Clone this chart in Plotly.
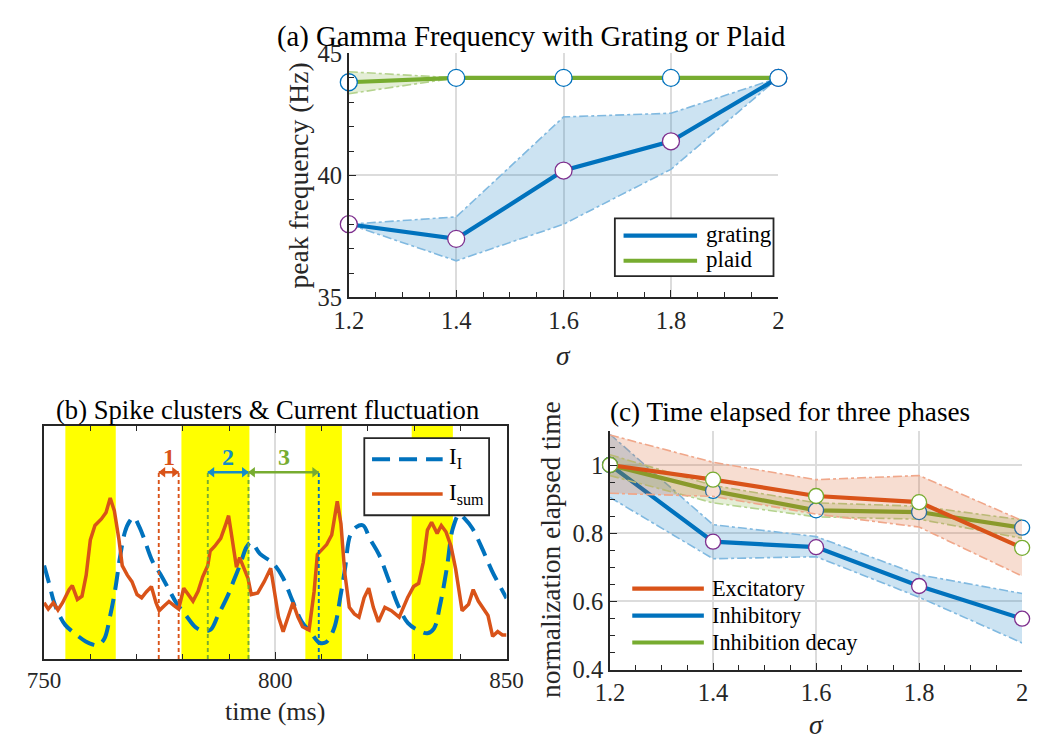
import plotly.graph_objects as go

W, H = 1043, 751
FONT = "Liberation Serif"
INK = "#262626"
BLUE = "#0072BD"
ORANGE = "#D95319"
GREEN = "#77AC30"
PURPLE = "#7E2F8E"

# ---------------- (a) Gamma frequency ----------------
sigma = [1.2, 1.4, 1.6, 1.8, 2.0]
grating_mean = [38.0, 37.4, 40.2, 41.4, 44.0]
grating_upper = [38.0, 38.3, 42.4, 42.55, 44.0]
grating_lower = [38.0, 36.5, 38.0, 40.25, 44.0]
plaid_mean = [43.82, 44.0, 44.0, 44.0, 44.0]
plaid_upper = [44.25, 44.0, 44.0, 44.0, 44.0]
plaid_lower = [43.35, 44.0, 44.0, 44.0, 44.0]

# ---------------- (b) spike clusters & currents ----------------
t_I = [750.0, 751.0, 752.2, 753.5, 754.6, 757.0, 759.0, 760.5, 761.7, 763.0,
       764.3, 765.4, 766.4, 767.5, 768.5, 769.4, 770.5, 771.6, 773.4, 775.1,
       777.2, 778.6, 780.7, 782.8, 784.5, 786.0, 787.6, 789.7, 791.1, 792.5,
       793.8, 794.8, 796.7, 799.5, 801.6, 803.7, 805.7, 807.8, 809.5, 811.0,
       812.7, 814.1, 815.1, 816.2, 817.5, 819.0, 820.4, 822.4, 824.5, 826.6,
       828.7, 830.8, 832.9, 834.3, 835.6, 837.1, 838.4, 839.8, 841.0, 842.6,
       844.7, 846.8, 848.9, 850.0]
I_inh = [0.40, 0.33, 0.24, 0.18, 0.145, 0.103, 0.075, 0.062, 0.060, 0.085,
         0.186, 0.30, 0.434, 0.545, 0.59, 0.607, 0.57, 0.517, 0.42, 0.365,
         0.29, 0.24, 0.186, 0.135, 0.12, 0.125, 0.186, 0.27, 0.34, 0.41,
         0.48, 0.50, 0.45, 0.41, 0.35, 0.25, 0.16, 0.11, 0.07, 0.072,
         0.13, 0.27, 0.39, 0.53, 0.565, 0.572, 0.517, 0.448, 0.34, 0.228,
         0.153, 0.124, 0.11, 0.13, 0.228, 0.39, 0.56, 0.62, 0.60, 0.56,
         0.475, 0.38, 0.30, 0.26]
t_sum = [750.0, 750.9, 752.0, 753.0, 754.0, 755.4, 756.1, 757.2, 758.2, 759.1,
         760.0, 761.0, 762.4, 763.4, 764.3, 765.2, 766.2, 766.9, 768.0, 769.0,
         770.1, 771.1, 772.1, 773.2, 774.2, 774.9, 776.0, 777.0, 778.1, 779.1,
         780.2, 781.2, 782.2, 783.3, 784.3, 785.4, 785.9, 786.9, 788.2, 789.2,
         789.9, 790.6, 791.6, 792.3, 793.3, 794.1, 794.8, 796.2, 797.6, 799.0,
         799.7, 800.7, 801.7, 802.8, 803.8, 804.9, 805.9, 807.3, 808.4, 809.1,
         810.1, 811.1, 812.2, 812.9, 813.4, 814.2, 815.0, 816.0, 817.1, 818.1,
         819.2, 820.2, 821.2, 822.3, 823.7, 825.1, 826.8, 828.6, 829.9, 831.0,
         832.0, 832.9, 833.8, 835.0, 835.9, 836.9, 838.0, 839.0, 840.4, 841.8,
         842.8, 843.9, 844.9, 846.0, 847.0, 848.1, 849.1, 850.0]
I_sum = [0.241, 0.214, 0.241, 0.210, 0.241, 0.297, 0.314, 0.255, 0.269, 0.359,
         0.510, 0.572, 0.600, 0.628, 0.690, 0.634, 0.510, 0.400, 0.359, 0.331,
         0.276, 0.262, 0.287, 0.310, 0.241, 0.207, 0.228, 0.246, 0.228, 0.214,
         0.303, 0.276, 0.248, 0.290, 0.352, 0.400, 0.462, 0.483, 0.517, 0.572,
         0.614, 0.524, 0.393, 0.434, 0.386, 0.345, 0.276, 0.283, 0.331, 0.389,
         0.303, 0.179, 0.117, 0.179, 0.241, 0.179, 0.138, 0.124, 0.290, 0.448,
         0.469, 0.490, 0.531, 0.628, 0.676, 0.579, 0.372, 0.221, 0.193, 0.179,
         0.262, 0.303, 0.221, 0.159, 0.221, 0.207, 0.179, 0.262, 0.310, 0.324,
         0.414, 0.552, 0.586, 0.538, 0.572, 0.545, 0.483, 0.386, 0.207, 0.234,
         0.297, 0.248, 0.221, 0.186, 0.097, 0.117, 0.103, 0.103]
spike_start = [754.6, 779.7, 806.5, 829.5]
spike_end = [765.5, 794.4, 814.4, 838.4]
phase_labels = ["1", "2", "3"]
phase_start = [774.8, 785.4, 794.2]
phase_end = [779.1, 794.2, 809.4]
phase_colors = [ORANGE, "#168CC8", GREEN]
guide_times = [774.8, 779.1, 785.4, 794.2, 809.4]
guide_colors = [ORANGE, ORANGE, GREEN, GREEN, BLUE]
arrow_level = 0.80
label_level = 0.865

# ---------------- (c) time elapsed ----------------
exc_mean = [1.0, 0.957, 0.909, 0.891, 0.757]
exc_upper = [1.088, 1.008, 0.957, 0.969, 0.837]
exc_lower = [0.917, 0.908, 0.856, 0.818, 0.674]
inh_mean = [1.0, 0.775, 0.759, 0.645, 0.549]
inh_upper = [1.09, 0.825, 0.790, 0.678, 0.623]
inh_lower = [0.905, 0.725, 0.731, 0.612, 0.478]
dec_mean = [1.0, 0.924, 0.867, 0.862, 0.816]
dec_upper = [1.03, 0.94, 0.889, 0.879, 0.839]
dec_lower = [0.969, 0.889, 0.848, 0.841, 0.785]


def px(x):
    return x / W


def py(y):
    return 1 - y / H


fig = go.Figure()


def band(x, up, lo, fill, edge, xa, ya):
    fig.add_trace(go.Scatter(x=x + x[::-1], y=up + lo[::-1], fill="toself",
                             fillcolor=fill, mode="lines", line=dict(width=0),
                             hoverinfo="skip", showlegend=False, xaxis=xa, yaxis=ya))
    for arr in (up, lo):
        fig.add_trace(go.Scatter(x=x, y=arr, mode="lines",
                                 line=dict(color=edge, width=1.6, dash="dashdot"),
                                 hoverinfo="skip", showlegend=False, xaxis=xa, yaxis=ya))


def mean_line(x, y, color, edge, name, xa, ya, msize):
    fig.add_trace(go.Scatter(x=x, y=y, mode="lines", name=name,
                             line=dict(color=color, width=4.2),
                             showlegend=False, xaxis=xa, yaxis=ya))
    fig.add_trace(go.Scatter(x=x, y=y, mode="markers", name=name,
                             marker=dict(size=msize, color="white",
                                         line=dict(color=edge, width=1.3)),
                             cliponaxis=False, showlegend=False, xaxis=xa, yaxis=ya))


# (a)
band(sigma, grating_upper, grating_lower, "rgba(0,114,189,0.2)", "#80B9E0", "x", "y")
mean_line(sigma, grating_mean, BLUE, PURPLE, "grating", "x", "y", 17)
band(sigma, plaid_upper, plaid_lower, "rgba(119,172,48,0.2)", "#B5D38E", "x", "y")
mean_line(sigma, plaid_mean, GREEN, BLUE, "plaid", "x", "y", 17)

# (b)
fig.add_trace(go.Scatter(x=t_I, y=I_inh, mode="lines", name="I_I", line_shape="spline",
                         line=dict(color=BLUE, width=4, dash="18px,9px"),
                         showlegend=False, xaxis="x2", yaxis="y2"))
fig.add_trace(go.Scatter(x=t_sum, y=I_sum, mode="lines", name="I_sum",
                         line=dict(color=ORANGE, width=3.5),
                         showlegend=False, xaxis="x2", yaxis="y2"))
for t, c in zip(guide_times, guide_colors):
    fig.add_trace(go.Scatter(x=[t, t], y=[0, arrow_level], mode="lines",
                             line=dict(color=c, width=1.9, dash="4px,3px"),
                             showlegend=False, hoverinfo="skip", xaxis="x2", yaxis="y2"))

# double-headed phase arrows: shaft + triangular heads
HEAD_INSET = 0.9  # ms, so that each head's tip sits on its guide line
for s, e, c in zip(phase_start, phase_end, phase_colors):
    fig.add_trace(go.Scatter(x=[s, e], y=[arrow_level, arrow_level], mode="lines",
                             line=dict(color=c, width=2.6), showlegend=False,
                             hoverinfo="skip", xaxis="x2", yaxis="y2"))
    fig.add_trace(go.Scatter(x=[s + HEAD_INSET, e - HEAD_INSET],
                             y=[arrow_level, arrow_level], mode="markers",
                             marker=dict(symbol=["triangle-left", "triangle-right"], size=9,
                                         color=c, line=dict(width=0)),
                             showlegend=False, hoverinfo="skip", xaxis="x2", yaxis="y2"))

# (c)
band(sigma, inh_upper, inh_lower, "rgba(0,114,189,0.2)", "#80B9E0", "x3", "y3")
mean_line(sigma, inh_mean, BLUE, PURPLE, "Inhibitory", "x3", "y3", 15)
band(sigma, dec_upper, dec_lower, "rgba(119,172,48,0.2)", "#B5D38E", "x3", "y3")
mean_line(sigma, dec_mean, GREEN, BLUE, "Inhibition decay", "x3", "y3", 15)
band(sigma, exc_upper, exc_lower, "rgba(217,83,25,0.2)", "#F0A78A", "x3", "y3")
mean_line(sigma, exc_mean, ORANGE, GREEN, "Excitatory", "x3", "y3", 15)


def axis(domain, rng, dtick, mdtick, anchor, fsize, grid=True):
    return dict(domain=domain, range=rng, tick0=rng[0], dtick=dtick, anchor=anchor,
                showline=True, linecolor=INK, linewidth=1.8,
                ticks="inside", ticklen=7, tickwidth=1.3, tickcolor=INK,
                tickfont=dict(family=FONT, size=fsize, color=INK),
                showgrid=grid, gridcolor="#DCDCDC", gridwidth=1.5,
                zeroline=False, fixedrange=True,
                minor=dict(tick0=rng[0], dtick=mdtick, ticks="inside", ticklen=5,
                           tickwidth=1.3, tickcolor=INK, showgrid=False))


xa = axis([px(343), px(787)], [1.2, 2.0], 0.2, 0.05, "y", 24.5)
ya = axis([py(295), py(42)], [35, 45], 5, 1, "x", 24.5)
xb = axis([px(28), px(506)], [750, 850], 50, 10, "y2", 23)
xb["mirror"] = "ticks"
yb = dict(domain=[py(670), py(428)], range=[0, 1], anchor="x2", showline=True,
          linecolor=INK, linewidth=1.8, mirror=True, ticks="", showticklabels=False,
          showgrid=False, zeroline=False, fixedrange=True)
xc = axis([px(613), px(1039)], [1.2, 2.0], 0.2, 0.05, "y3", 24.5)
yc = axis([py(681), py(433.5)], [0.4, 1.1], 0.2, 0.05, "x3", 24.5)

shapes = []
for s, e in zip(spike_start, spike_end):
    shapes.append(dict(type="rect", xref="x2", yref="y2 domain", x0=s, x1=e, y0=0, y1=1,
                       fillcolor="#FFFF00", line=dict(width=0), layer="below"))

annotations = []


def text(x, y, s, size=26, angle=0, color="black", xanchor="center"):
    annotations.append(dict(x=px(x), y=py(y), xref="paper", yref="paper", text=s,
                            showarrow=False, textangle=angle, xanchor=xanchor,
                            yanchor="middle", font=dict(family=FONT, size=size, color=color)))


# panel titles
text(531, 24, "(a) Gamma Frequency with Grating or Plaid", 28.7)
text(259, 412, "(b) Spike clusters &amp; Current fluctuation", 26.6)
text(799, 414, "(c) Time elapsed for three phases", 27.2)
# axis titles
text(291, 169, "peak frequency (Hz)", 27.5, angle=-90, color=INK)
text(565, 355, "<i>σ</i>", 27.5, color=INK)
text(267, 725, "time (ms)", 26, color=INK)
text(552, 557, "normalization elapsed time", 27.4, angle=-90, color=INK)
text(826, 738, "<i>σ</i>", 27.5, color=INK)

# phase labels in (b)
for lab, s, e, c in zip(phase_labels, phase_start, phase_end, phase_colors):
    annotations.append(dict(x=(s + e) / 2, y=label_level, xref="x2", yref="y2",
                            text="<b>%s</b>" % lab, showarrow=False,
                            font=dict(family=FONT, size=24, color=c)))

# legends (drawn)
# (a)
shapes.append(dict(type="rect", xref="paper", yref="paper", x0=px(618), x1=px(782),
                   y0=py(273), y1=py(213), fillcolor="white", line=dict(color=INK, width=1.8)))
for yy, c, lab in [(231, BLUE, "grating"), (257, GREEN, "plaid")]:
    shapes.append(dict(type="line", xref="paper", yref="paper", x0=px(627), x1=px(703),
                       y0=py(yy), y1=py(yy), line=dict(color=c, width=4.2)))
    text(710, yy - 1, lab, 23, color="black", xanchor="left")
# (b)
shapes.append(dict(type="rect", xref="paper", yref="paper", x0=px(359), x1=px(488),
                   y0=py(521), y1=py(441), fillcolor="white", line=dict(color=INK, width=1.8)))
shapes.append(dict(type="line", xref="paper", yref="paper", x0=px(367), x1=px(440),
                   y0=py(463), y1=py(463), line=dict(color=BLUE, width=4, dash="18px,9px")))
shapes.append(dict(type="line", xref="paper", yref="paper", x0=px(367), x1=px(440),
                   y0=py(499), y1=py(499), line=dict(color=ORANGE, width=3.5)))
text(445, 462, "I<sub>I</sub>", 23, color="black", xanchor="left")
text(445, 499, "I<sub>sum</sub>", 23, color="black", xanchor="left")
# (c)
for yy, c, lab in [(597, ORANGE, "Excitatory"), (625, BLUE, "Inhibitory"),
                   (653, GREEN, "Inhibition decay")]:
    shapes.append(dict(type="line", xref="paper", yref="paper", x0=px(636), x1=px(710),
                       y0=py(yy), y1=py(yy), line=dict(color=c, width=4.2)))
    text(716, yy, lab, 22.3, color="black", xanchor="left")

fig.update_layout(
    width=W, height=H, margin=dict(l=0, r=0, t=0, b=0),
    paper_bgcolor="white", plot_bgcolor="white", showlegend=False,
    font=dict(family=FONT, color=INK),
    xaxis=xa, yaxis=ya, xaxis2=xb, yaxis2=yb, xaxis3=xc, yaxis3=yc,
    shapes=shapes, annotations=annotations,
)

# remove the default page margin so the figure sits at the window's top-left corner
fig.write_html("out.html", config={"displayModeBar": False},
               post_script="document.body.style.margin='0';document.body.style.overflow='hidden';")
